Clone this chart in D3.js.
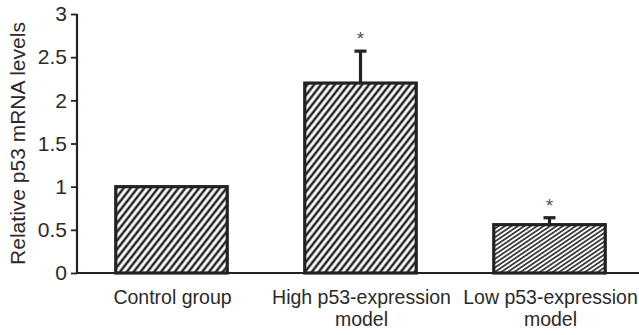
<!DOCTYPE html>
<html>
<head>
<meta charset="utf-8">
<script src="https://cdn.jsdelivr.net/npm/d3@7"></script>
<style>
  body { margin: 0; background: #fff; }
  svg text { font-family: "Liberation Sans", Arial, sans-serif; fill: #2a2a2a; }
</style>
</head>
<body>
<figure style="margin:0"></figure>
<script>
// chart values
const groups = ["control", "high", "low"];
const groupLabels = [["Control group"], ["High p53-expression", "model"], ["Low p53-expression", "model"]];
const meanValues = [1.0, 2.2, 0.56];
const errValues = [0, 0.37, 0.08];
const starred = [false, true, true];
const yTicks = [0, 0.5, 1, 1.5, 2, 2.5, 3];
const yTitle = "Relative p53 mRNA levels";

const width = 639, height = 335;
const margin = { left: 77, top: 14 };

const svg = d3.select("figure").append("svg")
  .attr("width", width)
  .attr("height", height);

// hatch patterns
const defs = svg.append("defs");
function hatch(id, gap, stroke, angle) {
  const p = defs.append("pattern")
    .attr("id", id)
    .attr("patternUnits", "userSpaceOnUse")
    .attr("width", gap)
    .attr("height", gap)
    .attr("patternTransform", "rotate(" + angle + ")");
  p.append("rect").attr("width", gap).attr("height", gap).attr("fill", "#fff");
  p.append("line")
    .attr("x1", gap / 2).attr("y1", 0)
    .attr("x2", gap / 2).attr("y2", gap)
    .attr("stroke", "#222")
    .attr("stroke-width", stroke);
}
hatch("hatchWide", 5.4, 2.5, 38);
hatch("hatchTight", 3.6, 1.6, 56);
const fills = ["url(#hatchWide)", "url(#hatchWide)", "url(#hatchTight)"];

// scales
const x = d3.scaleBand()
  .domain(groups)
  .range([margin.left, 644])
  .paddingInner(0.41)
  .paddingOuter(0.205);

const y = d3.scaleLinear()
  .domain([0, 3])
  .range([273, margin.top]);

// bars
svg.selectAll("rect.bar")
  .data(groups)
  .enter()
  .append("rect")
  .attr("class", "bar")
  .attr("x", d => x(d))
  .attr("y", (d, i) => y(meanValues[i]))
  .attr("width", x.bandwidth())
  .attr("height", (d, i) => y(0) - y(meanValues[i]))
  .attr("fill", (d, i) => fills[i])
  .attr("stroke", "#222")
  .attr("stroke-width", 3.2);

// error bars (upper only)
const errG = svg.append("g");
groups.forEach((g, i) => {
  if (!errValues[i]) return;
  const cx = x(g) + x.bandwidth() / 2;
  errG.append("line")
    .attr("x1", cx).attr("x2", cx)
    .attr("y1", y(meanValues[i]))
    .attr("y2", y(meanValues[i] + errValues[i]))
    .attr("stroke", "#222").attr("stroke-width", 3.2);
  errG.append("line")
    .attr("x1", cx - 6).attr("x2", cx + 6)
    .attr("y1", y(meanValues[i] + errValues[i]))
    .attr("y2", y(meanValues[i] + errValues[i]))
    .attr("stroke", "#222").attr("stroke-width", 3.2);
});

// significance stars
svg.selectAll("text.star")
  .data(groups.filter((g, i) => starred[i]))
  .enter()
  .append("text")
  .attr("class", "star")
  .attr("x", d => x(d) + x.bandwidth() / 2)
  .attr("y", d => {
    const i = groups.indexOf(d);
    return y(meanValues[i] + errValues[i]) - 6;
  })
  .attr("text-anchor", "middle")
  .style("font-size", "19px")
  .style("fill", "#555")
  .text("*");

// y axis
const yAxis = svg.append("g")
  .attr("transform", "translate(" + margin.left + ",0)")
  .call(d3.axisLeft(y).tickValues(yTicks).tickFormat(d3.format("")).tickSize(6).tickPadding(4));
yAxis.select(".domain").attr("stroke", "#222").attr("stroke-width", 2.2).attr("d", "M0," + y(3) + "V" + y(0));
yAxis.selectAll(".tick line").attr("stroke", "#222").attr("stroke-width", 1.8);
yAxis.selectAll(".tick text").style("font-size", "21px").attr("font-family", null).style("fill", "#2a2a2a");

// x axis baseline
svg.append("line")
  .attr("x1", margin.left).attr("x2", width)
  .attr("y1", y(0)).attr("y2", y(0))
  .attr("stroke", "#222").attr("stroke-width", 2.2);

// category labels
const lab = svg.selectAll("text.cat")
  .data(groups)
  .enter()
  .append("text")
  .attr("class", "cat")
  .attr("text-anchor", "middle")
  .attr("x", d => x(d) + x.bandwidth() / 2 + 1)
  .attr("y", 304)
  .style("font-size", "19.5px");
lab.selectAll("tspan")
  .data((d, i) => groupLabels[i])
  .enter()
  .append("tspan")
  .attr("x", function () { return this.parentNode.getAttribute("x"); })
  .attr("dy", (d, j) => j === 0 ? 0 : 22)
  .text(d => d);

// y title
svg.append("text")
  .attr("transform", "translate(25," + ((y(0) + y(3)) / 2) + ") rotate(-90)")
  .attr("text-anchor", "middle")
  .style("font-size", "21px")
  .text(yTitle);
</script>
</body>
</html>
